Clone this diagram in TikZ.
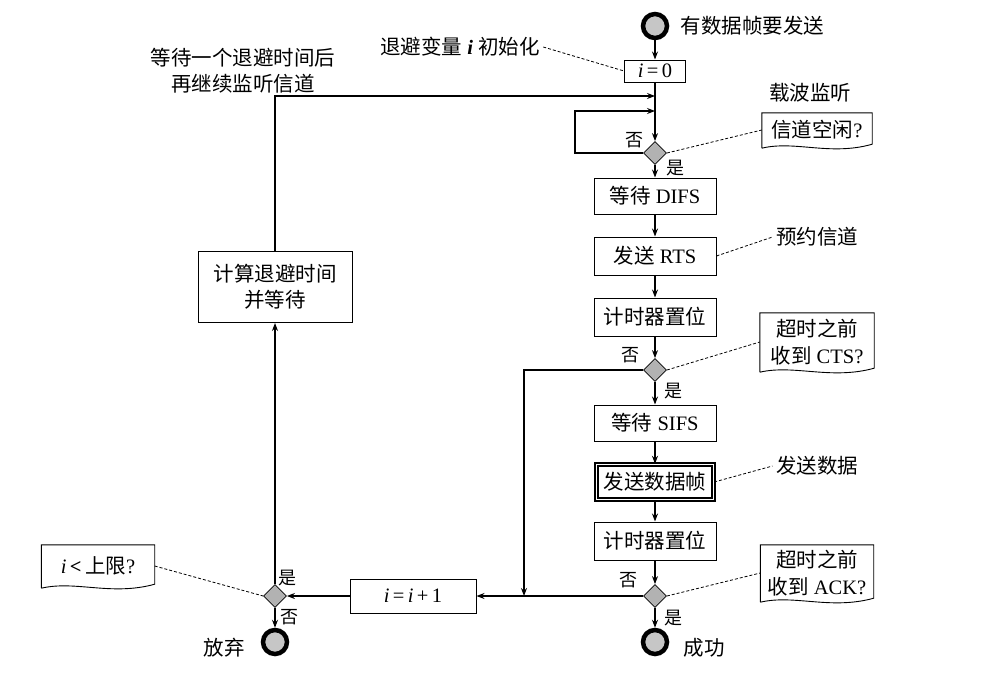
\documentclass[tikz,border=0pt]{standalone}
\usepackage{fontspec}
\setmainfont{Liberation Serif}
\newfontfamily\cjk{Noto Sans CJK SC}
\usetikzlibrary{shapes.geometric,arrows.meta,calc}
\newcommand{\zh}[1]{{\cjk #1}}
\newcommand{\wavyframe}[1]{%
 \draw[line width=0.9pt] ([yshift=-1pt]#1.south west) -- (#1.north west) -- (#1.north east) -- ([yshift=3pt]#1.south east)
   .. controls ($(#1.south west)!0.62!(#1.south east)+(0,9)$) and ($(#1.south west)!0.3!(#1.south east)+(0,-7)$) .. ([yshift=-1pt]#1.south west);}
\begin{document}
\begin{tikzpicture}[x=1pt,y=-1pt,
  every node/.style={font=\fontsize{20.5}{24}\selectfont},
  box/.style={draw,line width=1pt,minimum width=122pt,minimum height=37pt,inner sep=2pt},
  dec/.style={diamond,draw,fill=gray!60,line width=0.8pt,minimum size=23pt,inner sep=0pt},
  term/.style={circle,draw,line width=4.5pt,fill=gray!45,minimum size=24pt,inner sep=0pt},
  flow/.style={line width=1.1pt,-{Stealth[length=8pt,width=6pt]}},
  dline/.style={line width=0.8pt,dash pattern=on 3pt off 2pt},
  yn/.style={inner sep=0pt,font=\fontsize{18}{20}\selectfont},
  note/.style={inner sep=2pt,align=center}]
\useasboundingbox (0,0) rectangle (1004,680);
\fill[white] (0,0) rectangle (1004,680);

% main column
\node[term] (start) at (655,26) {};
\node[anchor=west] (tstart) at (677,26) {\zh{有数据帧要发送}};
\node[box,minimum width=61pt,minimum height=22pt,inner sep=0pt] (i0) at (655,71) {\textit{i}\,=\,0};
\node (tinit) at (460,47) {\zh{退避变量} \textbf{\textit{i}} \zh{初始化}};
\node[align=center,font=\fontsize{20.5}{26}\selectfont] (twait) at (243,71) {\zh{等待一个退避时间后}\\\zh{再继续监听信道}};

\coordinate (j1) at (655,96);
\coordinate (j2) at (655,111);
\coordinate (lp) at (575,153);
\coordinate (jn) at (524,596);

\node[dec] (d1) at (655,153) {};
\node[box,minimum height=36pt] (difs) at (655,196) {\zh{等待} DIFS};
\node[box,minimum height=38pt] (rts) at (655,256) {\zh{发送} RTS};
\node[box,minimum height=38pt] (tim1) at (655,317) {\zh{计时器置位}};
\node[dec] (d2) at (655,370) {};
\node[box,minimum height=36pt] (sifs) at (655,423) {\zh{等待} SIFS};
\node[box,minimum width=117pt,minimum height=35pt,double,double distance=1.6pt,line width=1.4pt] (data) at (655,482) {\zh{发送数据帧}};
\node[box,minimum height=38pt] (tim2) at (655,541) {\zh{计时器置位}};
\node[dec] (d3) at (655,596) {};
\node[term] (succ) at (655,642) {};
\node[box,minimum width=126pt,minimum height=34pt] (inc) at (413,596) {\textit{i}\,=\,\textit{i}\,+\,1};
\node[dec] (d4) at (275,596) {};
\node[term] (fail) at (275,642) {};
\node[box,minimum width=154pt,minimum height=71pt,align=center,font=\fontsize{20.5}{26}\selectfont] (calc) at (275,287) {\zh{计算退避时间}\\\zh{并等待}};

% terminal labels
\node (tsucc) at (704,648) {\zh{成功}};
\node (tfail) at (224,648) {\zh{放弃}};
\node (c1) at (810,93) {\zh{载波监听}};
\node (r1) at (817,237) {\zh{预约信道}};
\node (s1) at (817,466) {\zh{发送数据}};

% yes / no
\node[yn] (n1no) at (634,140) {\zh{否}};
\node[yn] (n1yes) at (675,168) {\zh{是}};
\node[yn] (n2no) at (630,355) {\zh{否}};
\node[yn] (n2yes) at (673,391) {\zh{是}};
\node[yn] (n3no) at (628,580) {\zh{否}};
\node[yn] (n3yes) at (673,618) {\zh{是}};
\node[yn] (n4yes) at (287,578) {\zh{是}};
\node[yn] (n4no) at (289,617) {\zh{否}};

% notes
\node[note,minimum width=110pt,minimum height=34pt] (n1) at (817,130) {\zh{信道空闲}?};
\node[note,minimum width=114pt,minimum height=58pt,font=\fontsize{20.5}{27}\selectfont] (n2) at (817,342) {\zh{超时之前}\\\zh{收到} CTS?};
\node[note,minimum width=113pt,minimum height=56pt,font=\fontsize{20.5}{27}\selectfont] (n3) at (817,573) {\zh{超时之前}\\\zh{收到} ACK?};
\node[note,minimum width=113pt,minimum height=42pt] (n4) at (98,566) {\textit{i}\,\textbf{<}\,\zh{上限}?};
\wavyframe{n1}
\wavyframe{n2}
\wavyframe{n3}
\wavyframe{n4}

% connectors
\draw[flow] (start) -- (i0);
\draw[flow] (i0) -- (d1);
\draw[flow] (calc.north) |- (j1);
\draw[flow] (d1.west) -- (lp) |- (j2);
\draw[flow] (d1) -- (difs);
\draw[flow] (difs) -- (rts);
\draw[flow] (rts) -- (tim1);
\draw[flow] (tim1) -- (d2);
\draw[flow] (d2) -- (sifs);
\draw[flow] (sifs) -- (data);
\draw[flow] (data) -- (tim2);
\draw[flow] (tim2) -- (d3);
\draw[flow] (d3) -- (succ);
\draw[flow] (d2.west) -| (jn);
\draw[flow] (d3.west) -- (inc.east);
\draw[flow] (inc.west) -- (d4.east);
\draw[flow] (d4) -- (calc.south);
\draw[flow] (d4) -- (fail);

% dashed pointers
\draw[dline] (tinit.east) -- (i0.west);
\draw[dline] (d1.east) -- (n1.west);
\draw[dline] (rts.east) -- (r1.west);
\draw[dline] (d2.east) -- (n2.west);
\draw[dline] (data.east) -- (s1.west);
\draw[dline] (d3.east) -- (n3.west);
\draw[dline] (n4.east) -- (d4.west);
\end{tikzpicture}
\end{document}
